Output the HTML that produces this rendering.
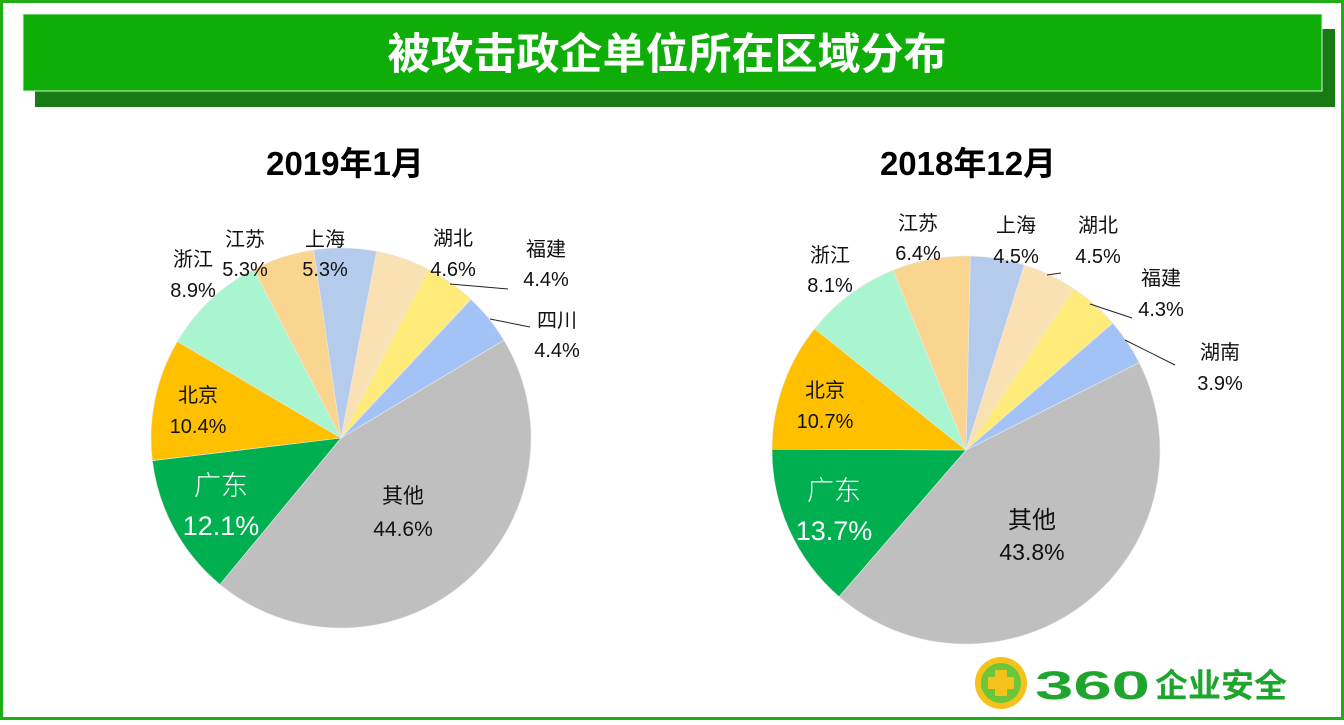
<!DOCTYPE html>
<html><head><meta charset="utf-8"><style>
html,body{margin:0;padding:0;background:#fff}
body{width:1344px;height:720px;overflow:hidden;position:relative;font-family:"Liberation Sans","Noto Sans CJK SC",sans-serif}
svg text{font-family:"Liberation Sans","Noto Sans CJK SC",sans-serif}
</style></head><body>
<svg id="s" width="1344" height="720" viewBox="0 0 1344 720" xmlns="http://www.w3.org/2000/svg">
<rect x="1.5" y="1.5" width="1341" height="717" fill="#fff" stroke="#1fae16" stroke-width="3"/>
<rect x="35" y="29" width="1300" height="78" fill="#177a12"/>
<rect x="23" y="14" width="1299" height="77" fill="#0ead08" stroke="#d8efd6" stroke-width="1"/>
<text x="667" y="69" font-size="43" font-weight="bold" fill="#fff" text-anchor="middle" font-family="Noto Sans CJK SC">被攻击政企单位所在区域分布</text>
<text x="345" y="175" font-size="33" font-weight="bold" fill="#000" text-anchor="middle">2019年1月</text>
<text x="968" y="175" font-size="33" font-weight="bold" fill="#000" text-anchor="middle">2018年12月</text>
<g id="p1"></g><g id="p2"></g>
<g stroke="#222" stroke-width="1" fill="none">
<path d="M450 284 L508 289"/><path d="M490 319 L530 327"/>
<path d="M1047 275 L1061 273"/><path d="M1090 304 L1132 318"/><path d="M1125 340 L1175 365"/>
</g>
<g font-size="20" fill="#111" font-family="Noto Sans CJK SC">
<text x="193" y="266" text-anchor="middle">浙江</text><text x="193" y="297" text-anchor="middle">8.9%</text>
<text x="245" y="246" text-anchor="middle">江苏</text><text x="245" y="276" text-anchor="middle">5.3%</text>
<text x="325" y="246" text-anchor="middle">上海</text><text x="325" y="276" text-anchor="middle">5.3%</text>
<text x="453" y="245" text-anchor="middle">湖北</text><text x="453" y="276" text-anchor="middle">4.6%</text>
<text x="546" y="256" text-anchor="middle">福建</text><text x="546" y="286" text-anchor="middle">4.4%</text>
<text x="557" y="327" text-anchor="middle">四川</text><text x="557" y="357" text-anchor="middle">4.4%</text>
<text x="198" y="402" text-anchor="middle">北京</text><text x="198" y="433" text-anchor="middle">10.4%</text>
<text x="403" y="503" text-anchor="middle" font-size="21">其他</text><text x="403" y="536" text-anchor="middle" font-size="21">44.6%</text>
<text x="830" y="262" text-anchor="middle">浙江</text><text x="830" y="292" text-anchor="middle">8.1%</text>
<text x="918" y="230" text-anchor="middle">江苏</text><text x="918" y="260" text-anchor="middle">6.4%</text>
<text x="1016" y="232" text-anchor="middle">上海</text><text x="1016" y="263" text-anchor="middle">4.5%</text>
<text x="1098" y="232" text-anchor="middle">湖北</text><text x="1098" y="263" text-anchor="middle">4.5%</text>
<text x="1161" y="285" text-anchor="middle">福建</text><text x="1161" y="316" text-anchor="middle">4.3%</text>
<text x="1220" y="359" text-anchor="middle">湖南</text><text x="1220" y="390" text-anchor="middle">3.9%</text>
<text x="825" y="397" text-anchor="middle">北京</text><text x="825" y="428" text-anchor="middle">10.7%</text>
<text x="1032" y="528" text-anchor="middle" font-size="24">其他</text><text x="1032" y="560" text-anchor="middle" font-size="23">43.8%</text>
</g>
<g font-size="27" fill="#fff" font-family="Noto Sans CJK SC" font-weight="300">
<text x="221" y="495" text-anchor="middle">广东</text><text x="221" y="535" text-anchor="middle">12.1%</text>
<text x="834" y="500" text-anchor="middle">广东</text><text x="834" y="540" text-anchor="middle">13.7%</text>
</g>
<circle cx="1001" cy="683" r="26" fill="#f5c21b"/>
<circle cx="1001" cy="683" r="20" fill="#6cc63a"/>
<path d="M995 670h12v7h7v12h-7v7h-12v-7h-7v-12h7z" fill="#f5c21b"/>
<text x="1035" y="699" font-size="40" font-weight="bold" fill="#1fa52e" textLength="115" lengthAdjust="spacingAndGlyphs">360</text>
<text x="1155" y="697" font-size="33" font-weight="bold" fill="#1fa52e" font-family="Noto Sans CJK SC">企业安全</text>
</svg>
<script>
function pie(id,cx,cy,r,start,data){
 var g=document.getElementById(id),a=start,ns="http://www.w3.org/2000/svg";
 data.forEach(function(d){
  var s=a,e=a+d[0]*3.6;a=e;
  var rs=(s-90)*Math.PI/180,re=(e-90)*Math.PI/180;
  var x1=cx+r*Math.cos(rs),y1=cy+r*Math.sin(rs),x2=cx+r*Math.cos(re),y2=cy+r*Math.sin(re);
  var p=document.createElementNS(ns,"path");
  p.setAttribute("d","M"+cx+" "+cy+"L"+x1+" "+y1+"A"+r+" "+r+" 0 "+((e-s)>180?1:0)+" 1 "+x2+" "+y2+"Z");
  p.setAttribute("fill",d[1]);p.setAttribute("stroke","#e8e8e8");p.setAttribute("stroke-width","0.6");
  g.appendChild(p);
 });
}
var C=["#b4cbeb","#f9e1b3","#feeb7a","#a3c3f7","#bfbfbf","#00b050","#ffc000","#a9f5cf","#f9d590"];
pie("p1",341,438,190,-8.3,[[5.3,C[0]],[4.6,C[1]],[4.4,C[2]],[4.4,C[3]],[44.6,C[4]],[12.1,C[5]],[10.4,C[6]],[8.9,C[7]],[5.3,C[8]]]);
pie("p2",966,450,194,1.3,[[4.5,C[0]],[4.5,C[1]],[4.3,C[2]],[3.9,C[3]],[43.8,C[4]],[13.7,C[5]],[10.7,C[6]],[8.1,C[7]],[6.5,C[8]]]);
</script>
</body></html>
